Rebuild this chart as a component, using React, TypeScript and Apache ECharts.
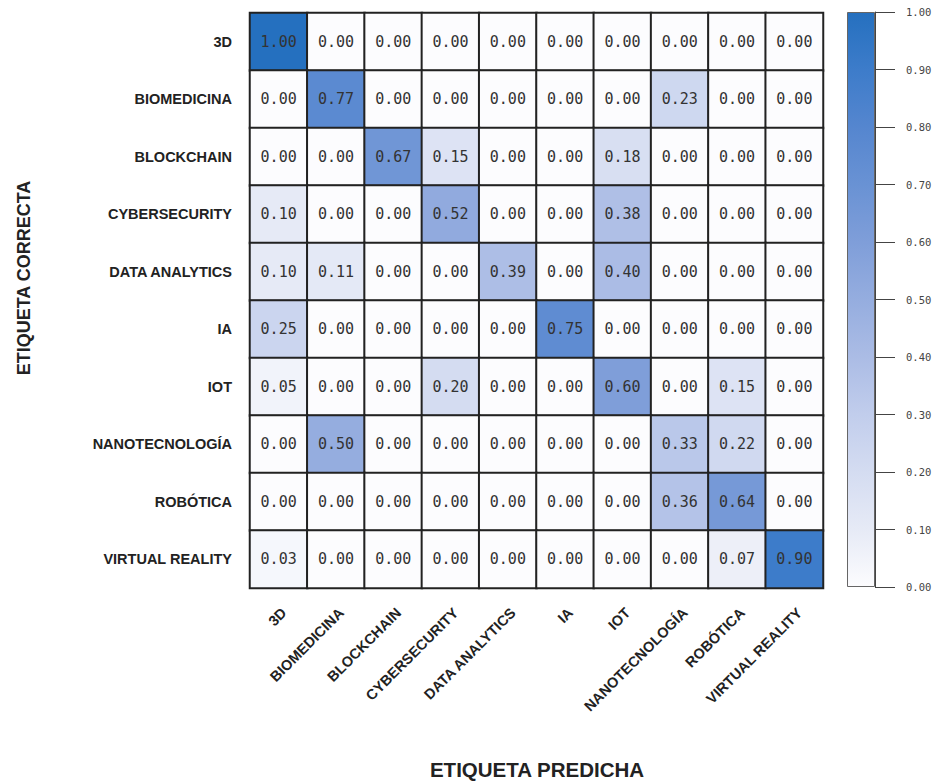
import React, { useEffect, useRef } from "react";
import * as echarts from "echarts";

const labels = [
  "3D",
  "BIOMEDICINA",
  "BLOCKCHAIN",
  "CYBERSECURITY",
  "DATA ANALYTICS",
  "IA",
  "IOT",
  "NANOTECNOLOGÍA",
  "ROBÓTICA",
  "VIRTUAL REALITY",
];

// rows = true label, columns = predicted label
const row3D = [1.0, 0, 0, 0, 0, 0, 0, 0, 0, 0];
const rowBiomedicina = [0, 0.77, 0, 0, 0, 0, 0, 0.23, 0, 0];
const rowBlockchain = [0, 0, 0.67, 0.15, 0, 0, 0.18, 0, 0, 0];
const rowCybersecurity = [0.1, 0, 0, 0.52, 0, 0, 0.38, 0, 0, 0];
const rowDataAnalytics = [0.1, 0.11, 0, 0, 0.39, 0, 0.4, 0, 0, 0];
const rowIA = [0.25, 0, 0, 0, 0, 0.75, 0, 0, 0, 0];
const rowIOT = [0.05, 0, 0, 0.2, 0, 0, 0.6, 0, 0.15, 0];
const rowNanotecnologia = [0, 0.5, 0, 0, 0, 0, 0, 0.33, 0.22, 0];
const rowRobotica = [0, 0, 0, 0, 0, 0, 0, 0.36, 0.64, 0];
const rowVirtualReality = [0.03, 0, 0, 0, 0, 0, 0, 0, 0.07, 0.9];

const matrix = [
  row3D,
  rowBiomedicina,
  rowBlockchain,
  rowCybersecurity,
  rowDataAnalytics,
  rowIA,
  rowIOT,
  rowNanotecnologia,
  rowRobotica,
  rowVirtualReality,
];

const colorTicks = [0, 0.1, 0.2, 0.3, 0.4, 0.5, 0.6, 0.7, 0.8, 0.9, 1.0];
const palette = [
  "#fcfcfe",
  "#e6eaf6",
  "#d4dcf1",
  "#c1cdec",
  "#abbce5",
  "#95addf",
  "#7f9ed9",
  "#6992d4",
  "#5586cf",
  "#3d7cca",
  "#2570bf",
];

export default function App() {
  const ref = useRef<HTMLDivElement>(null);

  useEffect(() => {
    if (!ref.current) return;
    document.body.style.margin = "0";
    const chart = echarts.init(ref.current, null, { renderer: "svg" });

    const data: [number, number, number][] = [];
    matrix.forEach((row, r) =>
      row.forEach((v, c) => {
        data.push([c, r, v]);
      })
    );

    const gradientStops = palette.map((col, i) => ({
      offset: colorTicks[i],
      color: col,
    }));

    chart.setOption({
      animation: false,
      backgroundColor: "#ffffff",
      grid: [
        { left: 250, top: 13, width: 573, height: 575 },
        { left: 847, top: 12, width: 28, height: 575 },
      ],
      xAxis: [
        {
          type: "category",
          gridIndex: 0,
          data: labels,
          axisLine: { show: false },
          axisTick: { show: false },
          splitArea: { show: false },
          axisLabel: {
            rotate: 45,
            interval: 0,
            margin: 17,
            verticalAlign: "top",
            fontFamily: "Liberation Sans, Arial, sans-serif",
            fontWeight: "bold",
            fontSize: 14.5,
            color: "#222",
          },
        },
        {
          type: "category",
          gridIndex: 1,
          data: ["cb"],
          show: false,
        },
      ],
      yAxis: [
        {
          type: "category",
          gridIndex: 0,
          data: labels,
          inverse: true,
          axisLine: { show: false },
          axisTick: { show: false },
          splitArea: { show: false },
          axisLabel: {
            interval: 0,
            margin: 18,
            fontFamily: "Liberation Sans, Arial, sans-serif",
            fontWeight: "bold",
            fontSize: 14.5,
            color: "#222",
          },
        },
        {
          type: "value",
          gridIndex: 1,
          min: 0,
          max: 1,
          interval: 0.1,
          position: "right",
          axisLine: { show: true, lineStyle: { color: "#444", width: 1 } },
          axisTick: {
            show: true,
            length: 20,
            lineStyle: { color: "#444", width: 1 },
          },
          splitLine: { show: false },
          axisLabel: {
            margin: 31,
            fontFamily: "DejaVu Sans Mono, monospace",
            fontSize: 10.5,
            color: "#444",
            formatter: (v: number) => v.toFixed(2),
          },
        },
      ],
      visualMap: {
        show: false,
        type: "continuous",
        min: 0,
        max: 1,
        seriesIndex: 0,
        dimension: 2,
        inRange: { color: palette },
      },
      graphic: [
        {
          type: "text",
          x: 24,
          y: 278,
          rotation: Math.PI / 2,
          style: {
            text: "ETIQUETA CORRECTA",
            fontFamily: "Liberation Sans, Arial, sans-serif",
            fontWeight: "bold",
            fontSize: 18,
            fill: "#222",
            align: "center",
            verticalAlign: "middle",
          },
        },
        {
          type: "text",
          x: 537,
          y: 769,
          style: {
            text: "ETIQUETA PREDICHA",
            fontFamily: "Liberation Sans, Arial, sans-serif",
            fontWeight: "bold",
            fontSize: 20.5,
            fill: "#222",
            align: "center",
            verticalAlign: "middle",
          },
        },
      ],
      series: [
        {
          type: "heatmap",
          xAxisIndex: 0,
          yAxisIndex: 0,
          data,
          label: {
            show: true,
            formatter: (p: any) => p.value[2].toFixed(2),
            fontFamily: "DejaVu Sans Mono, monospace",
            fontSize: 15,
            color: "#333",
          },
          itemStyle: { borderColor: "#222", borderWidth: 2 },
          emphasis: { disabled: true },
        },
        {
          type: "bar",
          xAxisIndex: 1,
          yAxisIndex: 1,
          data: [1],
          barWidth: "100%",
          silent: true,
          itemStyle: {
            color: new echarts.graphic.LinearGradient(0, 1, 0, 0, gradientStops),
            borderColor: "#666",
            borderWidth: 1,
          },
        },
      ],
    });

    return () => chart.dispose();
  }, []);

  return <div ref={ref} style={{ width: 938, height: 783 }} />;
}
